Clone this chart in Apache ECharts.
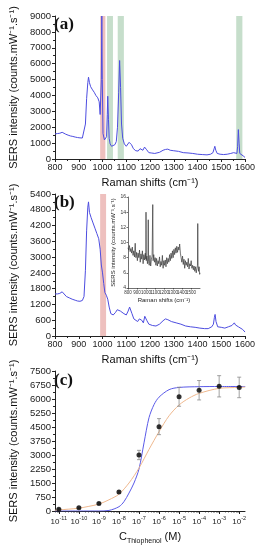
<!DOCTYPE html>
<html><head><meta charset="utf-8">
<script src="https://cdn.jsdelivr.net/npm/echarts@6/dist/echarts.min.js"></script>
<style>html,body{margin:0;padding:0;background:#fff}#c{width:261px;height:550px}</style>
</head><body><div id="c"></div><script>
// ---- Panel (a) spectrum ----
const shiftA = [800,810,820,830,838,845,855,865,875,885,895,905,915,922,928,933,938,941,945,950,958,965,972,980,986,990,993,995,997,999,1002,1008,1013,1017,1020,1022,1025,1028,1032,1038,1045,1052,1058,1063,1068,1072,1076,1080,1085,1092,1100,1106,1112,1117,1122,1130,1140,1150,1158,1163,1170,1177,1181,1186,1195,1205,1220,1240,1255,1265,1275,1285,1300,1320,1340,1360,1380,1400,1420,1440,1455,1465,1470,1473,1477,1483,1495,1510,1525,1540,1552,1560,1566,1569,1572,1575,1578,1585,1592,1600];
const intensityA = [1580,1600,1620,1680,1660,1560,1500,1450,1420,1380,1350,1330,1320,1400,2200,3800,4800,5150,4800,4550,4350,4200,4000,3850,3600,2800,2700,5000,9000,5000,1600,1200,1150,1400,2800,3950,2500,1300,950,800,850,900,1100,2000,4200,6200,4500,2200,1300,950,800,900,1050,1100,900,650,520,500,650,620,550,750,800,580,400,380,350,420,550,600,620,550,520,480,400,380,350,300,280,260,300,400,650,800,550,350,300,280,300,350,400,380,350,800,1850,1000,350,300,200,100];
const redBandA = [990, 1012];
const greenBandsA = [[1019, 1044], [1064, 1090], [1563, 1589]];
const yTicksA = [0, 9000, 1000];

// ---- Panel (b) spectrum ----
const shiftB = [800,810,820,830,838,848,860,872,885,895,905,915,922,928,933,938,941,945,952,960,968,976,984,990,995,1000,1005,1010,1016,1022,1028,1035,1045,1055,1062,1068,1075,1082,1090,1100,1108,1114,1118,1124,1132,1140,1148,1155,1160,1165,1172,1178,1181,1186,1195,1210,1225,1240,1255,1265,1275,1290,1310,1330,1350,1370,1390,1410,1430,1445,1460,1467,1471,1474,1478,1485,1500,1515,1530,1545,1555,1560,1565,1572,1580,1590,1600];
const intensityB = [1600,1600,1620,1680,1650,1500,1450,1400,1360,1330,1320,1350,1500,2500,4000,4900,5100,4700,4500,4300,4100,3900,3700,3300,2700,2400,2000,1650,1550,1400,1100,850,800,900,1000,950,950,900,850,800,950,1100,1050,850,650,600,550,650,680,600,500,750,820,600,450,400,380,450,580,650,620,550,500,450,380,350,330,300,280,280,350,450,700,820,550,350,330,300,350,400,500,420,450,350,300,250,150];
const redBandB = [990, 1015];
const yTicksB = [0, 5400, 600];

// ---- Inset (b) ----
const shiftInset = [800,808,816,824,832,840,848,856,864,872,880,888,896,904,912,920,928,936,944,952,960,968,976,984,992,998,1000,1003,1010,1016,1022,1025,1028,1036,1044,1052,1060,1068,1075,1079,1086,1094,1102,1110,1118,1126,1134,1142,1150,1158,1166,1174,1182,1190,1198,1206,1214,1222,1230,1238,1246,1254,1262,1270,1278,1286,1294,1302,1310,1318,1326,1334,1342,1350,1358,1366,1374,1382,1390,1398,1406,1414,1422,1430,1438,1446,1454,1462,1470,1478,1486,1494,1502,1510,1518,1526,1534,1542,1550,1558,1566,1572,1575,1578,1584,1590,1596,1600];
const intensityInset = [9.3,9.0,9.6,8.8,9.2,8.6,9.4,8.3,8.9,8.1,9.9,8.0,8.7,7.6,8.6,8.0,9.0,7.4,8.5,7.8,8.9,7.2,8.4,7.7,8.6,7.8,14.0,7.6,8.2,7.2,8.0,13.0,7.5,7.0,8.3,6.9,7.8,8.2,15.0,7.6,8.4,7.4,8.0,7.0,7.9,6.9,7.6,7.2,8.1,6.8,7.5,7.0,8.3,6.6,7.6,7.0,7.7,6.8,8.0,7.2,7.9,7.4,8.4,7.6,8.6,7.9,8.9,8.0,9.1,8.4,9.3,8.6,9.5,8.7,9.4,9.0,9.8,8.6,8.0,7.4,8.2,7.1,7.8,6.6,7.6,7.0,7.4,6.8,7.9,6.5,7.2,6.9,7.6,6.6,7.0,6.4,6.9,6.2,6.8,6.0,6.6,7.0,12.5,7.0,6.2,6.8,5.8,6.0];

// ---- Panel (c) calibration ----
const concExp = [-11,-10,-9,-8,-7,-6,-5,-4,-3,-2];
const intensityC = [100,170,400,1020,3000,4520,6120,6470,6680,6620];
const errorC = [40,40,50,60,250,430,510,520,570,550];
const blueFitExp = [-11.2,-10,-9,-8.5,-8,-7.75,-7.5,-7.25,-7,-6.75,-6.5,-6.25,-6,-5.5,-5,-4,-3,-1.7];
const blueFitVal = [0,0,0,30,230,500,960,1500,2250,3650,5000,5700,6100,6500,6620,6660,6670,6670];
const orangeFitExp = [-11.2,-11,-10.5,-10,-9.5,-9,-8.5,-8,-7.5,-7,-6.5,-6,-5.5,-5,-4.5,-4,-3,-2,-1.7];
const orangeFitVal = [40,60,100,150,250,370,600,900,1500,2300,3300,4250,5100,5680,6050,6300,6570,6620,6640];
const yTicksC = [0, 7500, 750];

const zip = (a, b) => a.map((v, i) => [v, b[i]]);
const FONT = 'Liberation Sans';
const blue = '#4d4de0';
const redBand = 'rgba(226,150,146,0.6)';
const greenBand = 'rgba(160,200,168,0.6)';
const yName = 'SERS intensity (counts.mW\u207B\u00B9.s\u207B\u00B9)';
const xName = 'Raman shifts (cm\u207B\u00B9)';
const plain = v => String(Math.round(v * 100) / 100);

function specX(grid) {
  return {
    type: 'value', gridIndex: grid, min: 800, max: 1600, interval: 100,
    name: xName, nameLocation: 'middle', nameGap: 18,
    nameTextStyle: {fontFamily: FONT, fontSize: 11, color: '#111'},
    axisLine: {lineStyle: {color: '#222', width: 1}},
    axisTick: {length: 3, lineStyle: {color: '#222'}},
    minorTick: {show: true, splitNumber: 2, length: 2, lineStyle: {color: '#222'}},
    axisLabel: {fontFamily: FONT, fontSize: 9, color: '#222', margin: 4, formatter: plain, interval: 0, hideOverlap: false},
    splitLine: {show: false}
  };
}
function specY(grid, t) {
  return {
    type: 'value', gridIndex: grid, min: t[0], max: t[1], interval: t[2],
    name: yName, nameLocation: 'middle', nameGap: 30,
    nameTextStyle: {fontFamily: FONT, fontSize: 11, color: '#111'},
    axisLine: {show: true, lineStyle: {color: '#222', width: 1}},
    axisTick: {show: true, length: 3, lineStyle: {color: '#222'}},
    minorTick: {show: true, splitNumber: 2, length: 2, lineStyle: {color: '#222'}},
    axisLabel: {fontFamily: FONT, fontSize: 9.5, color: '#222', margin: 4, formatter: plain},
    splitLine: {show: false}
  };
}

const minorLog = [];
for (let d = -12; d <= -2; d++) for (let k = 2; k <= 9; k++) {
  const v = d + Math.log10(k);
  if (v > -11.19 && v < -1.71) minorLog.push(v);
}

const chart = echarts.init(document.getElementById('c'), null, {renderer: 'canvas'});
chart.setOption({
  animation: false,
  backgroundColor: '#fff',
  grid: [
    {left: 49, width: 196, top: 16, height: 143},
    {left: 49, width: 196, top: 194, height: 142},
    {left: 128, width: 72, top: 197, height: 91},
    {left: 48, width: 197, top: 371, height: 140}
  ],
  xAxis: [
    specX(0), specX(1),
    {
      type: 'value', gridIndex: 2, min: 800, max: 1600, interval: 100,
      name: xName, nameLocation: 'middle', nameGap: 9,
      nameTextStyle: {fontFamily: FONT, fontSize: 6, color: '#222'},
      axisLine: {lineStyle: {color: '#333', width: 0.7}},
      axisTick: {length: 1.5, lineStyle: {color: '#333', width: 0.7}},
      axisLabel: {fontFamily: FONT, fontSize: 4.5, color: '#333', margin: 2, formatter: plain, interval: 0, hideOverlap: false},
      splitLine: {show: false}
    },
    {
      type: 'value', gridIndex: 3, min: -11.19, max: -1.71, position: 'bottom',
      name: '{c|C}{s|Thiophenol}{c| (M)}', nameLocation: 'middle', nameGap: 20,
      nameTextStyle: {rich: {
        c: {fontFamily: FONT, fontSize: 11, color: '#111', verticalAlign: 'top', lineHeight: 14},
        s: {fontFamily: FONT, fontSize: 7, color: '#111', verticalAlign: 'bottom', lineHeight: 14, padding: [6, 0, 0, 0]}
      }},
      axisLine: {lineStyle: {color: '#222', width: 1}},
      axisTick: {length: 3, customValues: concExp, lineStyle: {color: '#222'}},
      axisLabel: {
        customValues: concExp, margin: 4,
        formatter: v => '{b|10}{s|' + Math.round(v) + '}',
        rich: {
          b: {fontFamily: FONT, fontSize: 8, color: '#222', lineHeight: 11, verticalAlign: 'bottom'},
          s: {fontFamily: FONT, fontSize: 5.5, color: '#222', lineHeight: 11, verticalAlign: 'top'}
        }
      },
      splitLine: {show: false}
    },
    {
      type: 'value', gridIndex: 3, min: -11.19, max: -1.71, position: 'bottom', offset: 0,
      axisLine: {show: false},
      axisTick: {show: true, length: 1.5, customValues: minorLog, lineStyle: {color: '#222', width: 0.7}},
      axisLabel: {show: false}, splitLine: {show: false}
    }
  ],
  yAxis: [
    specY(0, yTicksA), specY(1, yTicksB),
    {
      type: 'value', gridIndex: 2, min: 4, max: 16, interval: 2,
      name: yName, nameLocation: 'middle', nameGap: 10,
      nameTextStyle: {fontFamily: FONT, fontSize: 6, color: '#222'},
      axisLine: {show: true, lineStyle: {color: '#333', width: 0.7}},
      axisTick: {show: true, length: 1.5, lineStyle: {color: '#333', width: 0.7}},
      axisLabel: {fontFamily: FONT, fontSize: 5, color: '#333', margin: 2, formatter: plain},
      splitLine: {show: false}
    },
    specY(3, yTicksC)
  ],
  series: [
    {
      type: 'line', xAxisIndex: 0, yAxisIndex: 0, data: zip(shiftA, intensityA),
      showSymbol: false, lineStyle: {color: blue, width: 1}, z: 3,
      markArea: {silent: true, itemStyle: {color: greenBand}, data: [
        [{xAxis: redBandA[0], itemStyle: {color: redBand}}, {xAxis: redBandA[1]}],
        ...greenBandsA.map(b => [{xAxis: b[0]}, {xAxis: b[1]}])
      ]}
    },
    {
      type: 'line', xAxisIndex: 1, yAxisIndex: 1, data: zip(shiftB, intensityB),
      showSymbol: false, lineStyle: {color: blue, width: 1}, z: 3,
      markArea: {silent: true, itemStyle: {color: redBand}, data: [
        [{xAxis: redBandB[0]}, {xAxis: redBandB[1]}]
      ]}
    },
    {
      type: 'line', xAxisIndex: 2, yAxisIndex: 2, data: zip(shiftInset, intensityInset),
      showSymbol: false, lineStyle: {color: '#3a3a3a', width: 0.7}
    },
    {
      type: 'line', xAxisIndex: 3, yAxisIndex: 3, data: zip(blueFitExp, blueFitVal),
      smooth: 0.3, showSymbol: false, lineStyle: {color: '#5a5ae8', width: 1}
    },
    {
      type: 'line', xAxisIndex: 3, yAxisIndex: 3, data: zip(orangeFitExp, orangeFitVal),
      smooth: 0.3, showSymbol: false, lineStyle: {color: '#efb88e', width: 1}
    },
    {
      type: 'custom', xAxisIndex: 3, yAxisIndex: 3,
      data: concExp.map((x, i) => [x, intensityC[i] - errorC[i], intensityC[i] + errorC[i]]),
      renderItem: (params, api) => {
        const lo = api.coord([api.value(0), api.value(1)]);
        const hi = api.coord([api.value(0), api.value(2)]);
        const st = {stroke: '#8a8a8a', lineWidth: 0.8};
        return {type: 'group', children: [
          {type: 'line', shape: {x1: lo[0], y1: lo[1], x2: hi[0], y2: hi[1]}, style: st},
          {type: 'line', shape: {x1: lo[0] - 2, y1: lo[1], x2: lo[0] + 2, y2: lo[1]}, style: st},
          {type: 'line', shape: {x1: hi[0] - 2, y1: hi[1], x2: hi[0] + 2, y2: hi[1]}, style: st}
        ]};
      }, z: 4
    },
    {
      type: 'scatter', xAxisIndex: 3, yAxisIndex: 3, data: zip(concExp, intensityC),
      symbol: 'circle', symbolSize: 5, itemStyle: {color: '#000'}, z: 5
    }
  ],
  graphic: [
    {type: 'text', left: 54, top: 16, style: {text: '(a)', font: 'bold 17px "Liberation Serif"', fill: '#111'}},
    {type: 'text', left: 54, top: 194, style: {text: '(b)', font: 'bold 17px "Liberation Serif"', fill: '#111'}},
    {type: 'text', left: 54, top: 372, style: {text: '(c)', font: 'bold 17px "Liberation Serif"', fill: '#111'}}
  ]
});
</script></body></html>
